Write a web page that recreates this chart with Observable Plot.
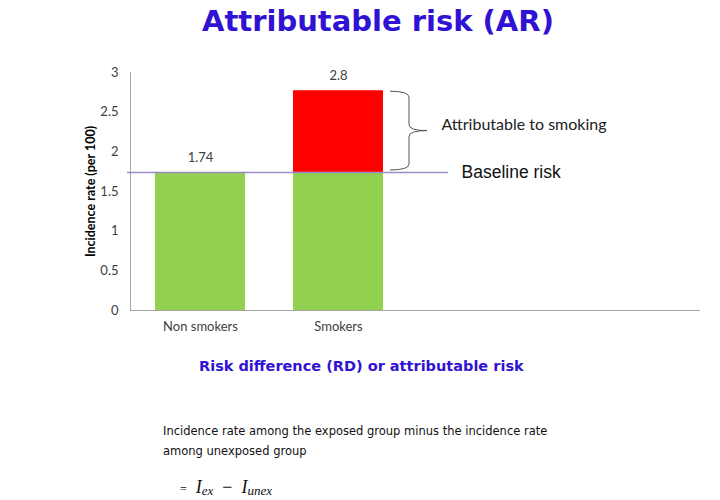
<!DOCTYPE html>
<html>
<head>
<meta charset="utf-8">
<script src="https://cdn.jsdelivr.net/npm/d3@7"></script>
<script src="https://cdn.jsdelivr.net/npm/@observablehq/plot@0.6"></script>
<style>
  html, body { margin: 0; padding: 0; background: #fff; }
  #wrap { position: relative; width: 720px; height: 500px; overflow: hidden; background: #fff; }
  #chart { position: absolute; left: 0; top: 0; }
  .title { position: absolute; left: 202px; top: 4px; white-space: nowrap; font-family: "DejaVu Sans", sans-serif; font-weight: bold; font-size: 29px; line-height: 34px; color: #3012d4; }
  .subtitle { position: absolute; left: 199px; top: 357px; white-space: nowrap; font-family: "DejaVu Sans", sans-serif; font-weight: bold; font-size: 14.5px; line-height: 18px; color: #3012d4; }
  .body { position: absolute; left: 163px; top: 421px; white-space: nowrap; font-family: "DejaVu Sans", sans-serif; font-size: 11.5px; line-height: 20px; color: #111; }
  .formula { position: absolute; left: 180px; top: 478px; white-space: nowrap; font-family: "Liberation Serif", "DejaVu Serif", serif; font-size: 18px; line-height: 18px; color: #111; }
  .formula i { font-style: italic; }
  .formula sub { font-size: 13px; vertical-align: -2px; line-height: 0; }
</style>
</head>
<body>
<div id="wrap">
  <div id="chart"></div>
  <div class="title">Attributable risk (AR)</div>
  <div class="subtitle">Risk difference (RD) or attributable risk</div>
  <div class="body">Incidence rate among the exposed group minus the incidence rate<br>among unexposed group</div>
  <div class="formula"><span style="font-size:12px">=</span>&nbsp;&nbsp;<i>I<sub>ex</sub></i>&nbsp;&nbsp;−&nbsp;&nbsp;<i>I<sub>unex</sub></i></div>
</div>
<script>
const categories = ["Non smokers", "Smokers"];
const incidence = [1.74, 2.77];
const valueLabels = ["1.74", "2.8"];
const baseline = 1.74;
const yTicks = [0, 0.5, 1, 1.5, 2, 2.5, 3];
const yLabel = "Incidence rate (per 100)";
const attribLabel = "Attributable to smoking";
const baselineLabel = "Baseline risk";

const rows = categories.map((c, i) => ({category: c, value: incidence[i], label: valueLabels[i]}));
const excessRows = rows.filter(d => d.value > baseline);
const smokerRow = rows[1];

const chart = Plot.plot({
  width: 720,
  height: 340,
  marginLeft: 130,
  marginRight: 20,
  marginTop: 72,
  marginBottom: 30,
  style: {fontFamily: "Lato, sans-serif", fontSize: "13px", color: "#404040", background: "transparent"},
  x: {type: "band", domain: categories, range: [130, 407], paddingInner: 0.35, paddingOuter: 0.175},
  y: {domain: [0, 3]},
  marks: [
    Plot.barY(rows, {x: "category", y1: 0, y2: d => Math.min(d.value, baseline), fill: "#92d050"}),
    Plot.barY(excessRows, {x: "category", y1: () => baseline, y2: "value", fill: "#ff0000"}),
    Plot.ruleY([0], {stroke: "#a6a6a6"}),
    Plot.frame({anchor: "left", stroke: "#a6a6a6"}),
    Plot.ruleY([baseline], {stroke: "#9d8cc8", strokeWidth: 1.5, insetLeft: -3, insetRight: 252}),
    Plot.axisY({ticks: yTicks, tickSize: 0, tickPadding: 12, tickFormat: d => String(d), label: null, fontSize: 13, fill: "#404040"}),
    Plot.axisX({tickSize: 0, tickPadding: 11, label: null, fontSize: 13, fill: "#404040"}),
    Plot.text(rows, {x: "category", y: "value", text: "label", dy: -15, fontSize: 13, fill: "#404040"}),
    Plot.text([yLabel], {frameAnchor: "left", textAnchor: "middle", dx: -40, rotate: -90, fontWeight: "bold", fontSize: 12.5, fill: "#000"}),
    Plot.text([smokerRow], {x: "category", y: d => (d.value + baseline) / 2, text: () => attribLabel, textAnchor: "start", dx: 103, dy: -7, fontSize: 16, fill: "#222"}),
    Plot.text([smokerRow], {x: "category", y: () => baseline, text: () => baselineLabel, textAnchor: "start", dx: 123, dy: 0, fontSize: 17.5, fontFamily: "Liberation Sans, Arial, sans-serif", fill: "#111"})
  ]
});
document.getElementById("chart").appendChild(chart);

// curly brace beside the attributable segment, positioned with the chart's scales
const xs = chart.scale("x"), ys = chart.scale("y");
const x0 = xs.apply(smokerRow.category) + xs.bandwidth + 7;
const x1 = x0 + 19, x2 = x0 + 37;
const yt = ys.apply(smokerRow.value) + 1, yb = ys.apply(baseline) - 2;
const ym = (yt + yb) / 2;
const r = 6;
const path = `M${x0},${yt} Q${x1},${yt} ${x1},${yt + r} L${x1},${ym - r} Q${x1},${ym} ${x2},${ym} Q${x1},${ym} ${x1},${ym + r} L${x1},${yb - r} Q${x1},${yb} ${x0},${yb}`;
d3.select(chart).append("path").attr("d", path).attr("fill", "none").attr("stroke", "#555").attr("stroke-width", 1);
</script>
</body>
</html>
